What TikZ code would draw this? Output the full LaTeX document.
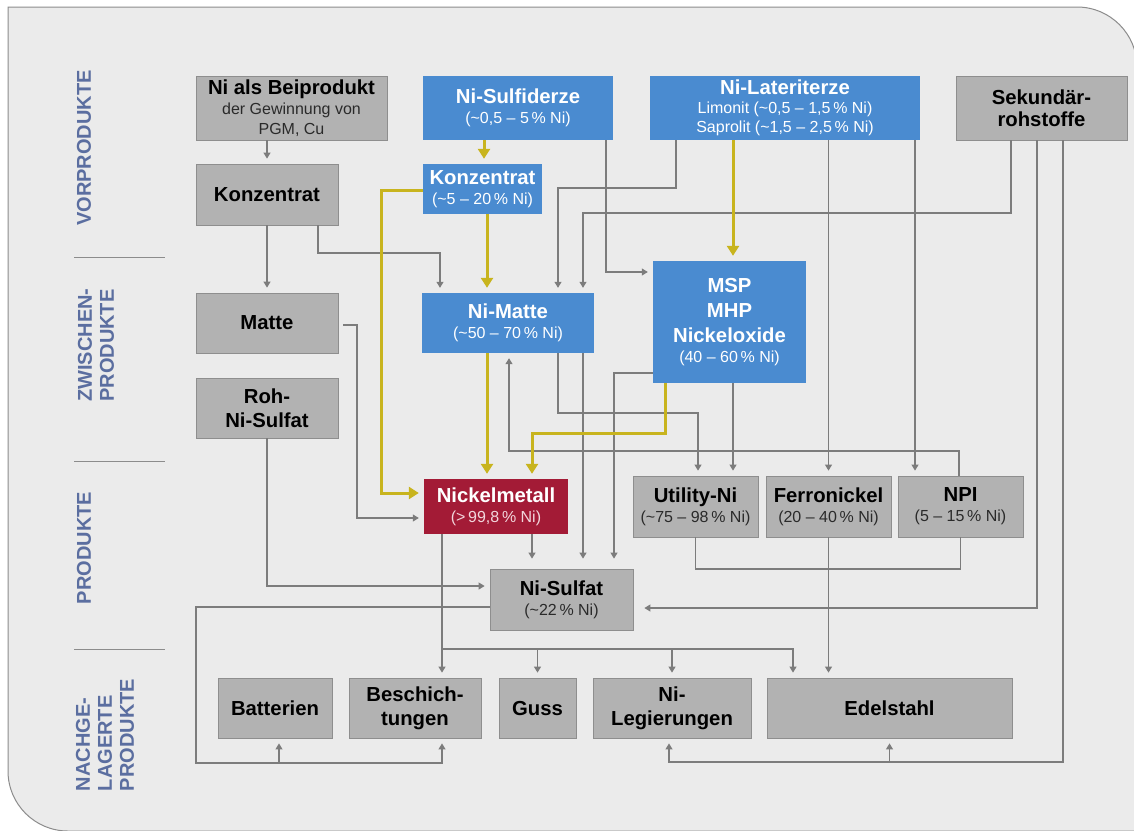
\documentclass[tikz,border=0pt]{standalone}
\usepackage{fontspec}
\setmainfont{Liberation Sans}
\usetikzlibrary{arrows.meta}
\definecolor{bgc}{HTML}{EBEBEB}
\definecolor{framec}{HTML}{8C8C8C}
\definecolor{boxg}{HTML}{B2B2B2}
\definecolor{boxgb}{HTML}{8E8E8E}
\definecolor{boxb}{HTML}{4A8BD0}
\definecolor{boxr}{HTML}{A31B36}
\definecolor{linec}{HTML}{7C7C7C}
\definecolor{yel}{HTML}{C8B41E}
\definecolor{secc}{HTML}{5B6EA0}
\definecolor{subg}{HTML}{2A2A2A}
\definecolor{pinkt}{HTML}{F2D6DC}
\newcommand{\ttl}[1]{{\bfseries\fontsize{20.3}{24}\selectfont #1}}
\begin{document}
\begin{tikzpicture}[x=1pt,y=-1pt,
 box/.style={rectangle, inner sep=0pt, align=center, font=\fontsize{16}{20}\selectfont},
 bfont/.style={font=\bfseries\fontsize{20.3}{24}\selectfont},
 graybox/.style={box, fill=boxg, draw=boxgb, line width=0.8pt, text=black},
 bluebox/.style={box, fill=boxb, text=white},
 redbox/.style={box, fill=boxr, text=white},
 garrow/.style={draw=linec, line width=1.1pt, shorten >=5pt, -{Triangle[length=6pt,width=7pt]}},
 gline/.style={draw=linec, line width=1.1pt},
 yarrow/.style={draw=yel, line width=3pt, shorten >=5pt, -{Triangle[length=10pt,width=12pt]}},
 seclabel/.style={rotate=90, text=secc, font=\bfseries\fontsize{20}{22}\selectfont, align=left},
 sepline/.style={draw=framec, line width=1pt}]
\useasboundingbox (0,0) rectangle (1134,830);
\fill[white] (0,0) rectangle (1134,830);
\draw[framec, fill=bgc, line width=1pt] (8,7) -- (1077,7) arc[start angle=90, end angle=0, radius=60pt]
  -- (1137,831) -- (68,831) arc[start angle=270, end angle=180, radius=60pt] -- cycle;

% section labels
\node[seclabel] (s1) at (84,148) {VORPRODUKTE};
\node[seclabel] (s2) at (96,345) {ZWISCHEN-\\PRODUKTE};
\node[seclabel] (s3) at (84,548) {PRODUKTE};
\node[seclabel] (s4) at (105,735) {NACHGE-\\LAGERTE\\PRODUKTE};
\draw[sepline] (74,257) -- (165,257);
\draw[sepline] (74,461) -- (165,461);
\draw[sepline] (74,649) -- (165,649);

% boxes
\node[graybox, minimum width=191pt, minimum height=64pt] (nibei) at (291.5,108) {\ttl{Ni als Beiprodukt}\\ \textcolor{subg}{der Gewinnung von}\\ \textcolor{subg}{PGM, Cu}};
\node[graybox, bfont, minimum width=142pt, minimum height=61pt] (konzg) at (267,194.5) {Konzentrat};
\node[bluebox, minimum width=190pt, minimum height=64pt] (sulf) at (518,108) {\ttl{Ni-Sulfiderze}\\(\textasciitilde 0,5 – 5\,\% Ni)};
\node[bluebox, minimum width=270pt, minimum height=64pt] (later) at (785,108) {\ttl{Ni-Lateriterze}\\[-1pt]Limonit (\textasciitilde 0,5 – 1,5\,\% Ni)\\[-1pt]Saprolit (\textasciitilde 1,5 – 2,5\,\% Ni)};
\node[graybox, bfont, minimum width=171pt, minimum height=64pt] (sek) at (1041.5,108) {Sekundär-\\[-2pt]rohstoffe};
\node[bluebox, minimum width=119pt, minimum height=50pt] (konzb) at (482.5,189) {\ttl{Konzentrat}\\(\textasciitilde 5 – 20\,\% Ni)};
\node[graybox, bfont, minimum width=142pt, minimum height=60pt] (matte) at (267,323) {Matte};
\node[graybox, bfont, minimum width=142pt, minimum height=60pt] (roh) at (267,408) {Roh-\\Ni-Sulfat};
\node[bluebox, minimum width=172pt, minimum height=60pt] (nimatte) at (508,323) {\ttl{Ni-Matte}\\(\textasciitilde 50 – 70\,\% Ni)};
\node[bluebox, minimum width=153pt, minimum height=122pt] (msp) at (729.5,322) {\ttl{MSP}\\[5pt]\ttl{MHP}\\[5pt]\ttl{Nickeloxide}\\(40 – 60\,\% Ni)};
\node[redbox, minimum width=144pt, minimum height=55pt] (nimet) at (496,506.5) {\ttl{Nickelmetall}\\\textcolor{pinkt}{(>\,99,8\,\% Ni)}};
\node[graybox, minimum width=125pt, minimum height=61pt] (util) at (695.5,506.5) {\ttl{Utility-Ni}\\\textcolor{subg}{(\textasciitilde 75 – 98\,\% Ni)}};
\node[graybox, minimum width=125pt, minimum height=61pt] (ferro) at (828.5,506.5) {\ttl{Ferronickel}\\\textcolor{subg}{(20 – 40\,\% Ni)}};
\node[graybox, minimum width=125pt, minimum height=61pt] (npi) at (960.5,506.5) {\ttl{NPI}\\\textcolor{subg}{(5 – 15\,\% Ni)}};
\node[graybox, minimum width=143pt, minimum height=61pt] (nisulf) at (561.5,599.5) {\ttl{Ni-Sulfat}\\\textcolor{subg}{(\textasciitilde 22\,\% Ni)}};
\node[graybox, bfont, minimum width=114pt, minimum height=60pt] (batt) at (275,708) {Batterien};
\node[graybox, bfont, minimum width=132pt, minimum height=60pt] (besch) at (415,708) {Beschich-\\tungen};
\node[graybox, bfont, minimum width=77pt, minimum height=60pt] (guss) at (537.5,708) {Guss};
\node[graybox, bfont, minimum width=158pt, minimum height=60pt] (nileg) at (672,708) {Ni-\\Legierungen};
\node[graybox, bfont, minimum width=245pt, minimum height=60pt] (edel) at (889.5,708) {Edelstahl};

% gray connectors
\draw[garrow] (konzg.north |- nibei.south) -- (konzg.north);
\draw[garrow] (konzg.south) -- (matte.north);
\draw[garrow] ([xshift=51pt]konzg.south) |- (440,253) -- ([xshift=-68pt]nimatte.north);
\draw[garrow] ([xshift=-109pt]later.south) |- (558,188) -- ([xshift=50pt]nimatte.north);
\draw[garrow] ([xshift=-30.5pt]sek.south) |- (583,213) -- ([xshift=75pt]nimatte.north);
\draw[garrow] ([xshift=88pt]sulf.south) |- ([yshift=50pt]msp.west);
\draw[garrow] (ferro.north |- later.south) -- (ferro.north);
\draw[garrow] ([xshift=130pt]later.south) -- ([xshift=-45.5pt]npi.north);
\draw[garrow] ([xshift=3.5pt]msp.south) -- ([xshift=37.5pt]util.north);
\draw[garrow] ([xshift=50pt]nimatte.south) |- (698,413) -- ([xshift=2.5pt]util.north);
\draw[garrow, shorten >=10pt] ([xshift=75pt]nimatte.south) -- ([xshift=21.5pt]nisulf.north);
\draw[garrow, shorten >=10pt] ([yshift=-51pt]msp.west) -| ([xshift=52.5pt]nisulf.north);
\draw[garrow] ([xshift=-1.5pt]npi.north) |- (509,451) -- ([xshift=1pt]nimatte.south);
\draw[garrow, shorten >=10pt] ([xshift=36pt]nimet.south) -- ([xshift=-29.5pt]nisulf.north);
\draw[garrow] ([xshift=5pt,yshift=-2pt]matte.east) -| (357,518) -- ([yshift=-11.5pt]nimet.west);
\draw[garrow] (roh.south) |- ([yshift=13.5pt]nisulf.west);
\draw[garrow] ([yshift=-7.5pt]nisulf.west) -- (196,607) -- (196,763) -- (442,763) -- ([xshift=27pt]besch.south);
\draw[garrow] (279,763) -- ([xshift=4pt]batt.south);
\draw[garrow] ([xshift=-4.5pt]sek.south) |- ([xshift=6pt,yshift=-8.5pt]nisulf.east);
\draw[garrow] ([xshift=21.5pt]sek.south) |- (669,762) -- ([xshift=-3pt]nileg.south);
\draw[garrow] (889.5,762) -- (edel.south);
\draw[garrow] ([xshift=-54pt]nimet.south) -- ([xshift=27pt]besch.north);
\draw[garrow] (442,649) -- (793,649) -- ([xshift=-96.5pt]edel.north);
\draw[garrow] (537.5,649) -- (guss.north);
\draw[garrow] (672,649) -- (nileg.north);
\draw[gline] (util.south) -- (695.5,569) -- (960.5,569) -- (npi.south);
\draw[garrow] (ferro.south) -- ([xshift=-61pt]edel.north);

% yellow connectors
\draw[yarrow] ([xshift=-34pt]sulf.south) -- ([xshift=1.5pt]konzb.north);
\draw[yarrow] ([xshift=4.5pt]konzb.south) -- ([xshift=-21pt]nimatte.north);
\draw[yarrow] ([yshift=-1pt]konzb.west) -- (381,190) -- (381,493) -- ([yshift=13.5pt]nimet.west);
\draw[yarrow] ([xshift=-52pt]later.south) -- ([xshift=3.5pt]msp.north);
\draw[yarrow] ([xshift=-21pt]nimatte.south) -- ([xshift=-9pt]nimet.north);
\draw[yarrow] ([xshift=-64.5pt]msp.south) |- (532,433) -- ([xshift=36pt]nimet.north);
\end{tikzpicture}
\end{document}
